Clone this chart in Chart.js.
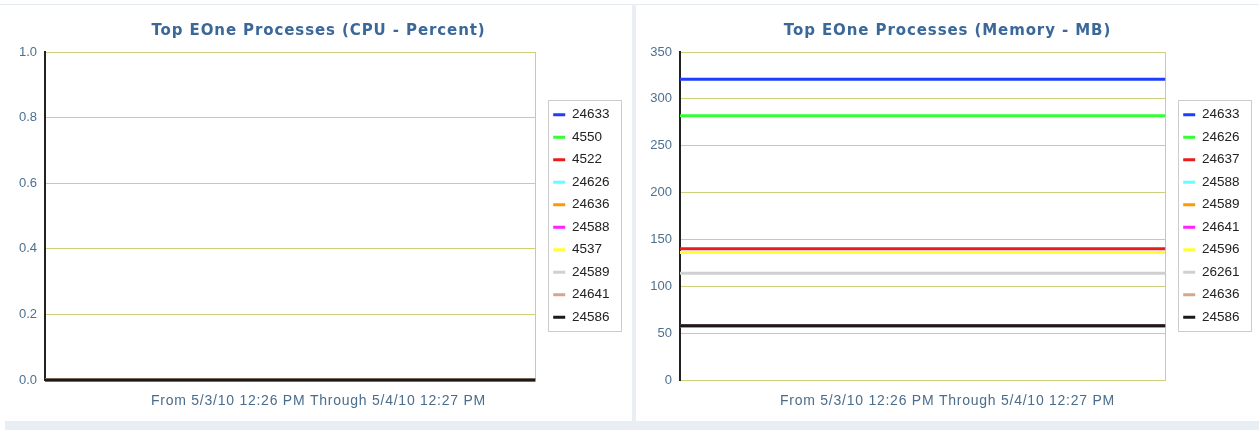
<!DOCTYPE html>
<html>
<head>
<meta charset="utf-8">
<title>Top EOne Processes</title>
<script src="https://cdn.jsdelivr.net/npm/chart.js@4.4.1/dist/chart.umd.min.js"></script>
<style>
  html, body { margin: 0; padding: 0; }
  body { width: 1259px; height: 430px; background: #ffffff; position: relative; overflow: hidden; }
  .topline { position: absolute; left: 0; top: 4px; width: 1259px; height: 1px; background: #e4eaf2; }
  .divider { position: absolute; left: 632px; top: 4px; width: 4px; height: 417px; background: #e9eef5; }
  .band { position: absolute; left: 5px; top: 421px; width: 1254px; height: 9px; background: #e9eef5; }
  canvas { position: absolute; top: 5px; }
  #cpuChart { left: 5px; }
  #memChart { left: 636px; }
</style>
</head>
<body>
<div class="topline"></div>
<div class="divider"></div>
<div class="band"></div>
<canvas id="cpuChart" width="627" height="415"></canvas>
<canvas id="memChart" width="623" height="415"></canvas>
<script>
// Time range covered by both charts (start / end sample)
const timeLabels = ['5/3/10 12:26 PM', '5/4/10 12:27 PM'];
const rangeText = 'From 5/3/10 12:26 PM Through 5/4/10 12:27 PM';

// CPU chart - process ids and their (flat) values
const cpuProcs = ['24633', '4550', '4522', '24626', '24636', '24588', '4537', '24589', '24641', '24586'];
const cpuPercent = [0, 0, 0, 0, 0, 0, 0, 0, 0, 0];
const cpuTicks = [0, 0.2, 0.4, 0.6, 0.8, 1.0];

// Memory chart - process ids and their (flat) values in MB
const memProcs = ['24633', '24626', '24637', '24588', '24589', '24641', '24596', '26261', '24636', '24586'];
const memMB = [321, 282, 140, 58, 136, 58, 136, 114, 58, 58];
const memTicks = [0, 50, 100, 150, 200, 250, 300, 350];

// Series colours, same slot order in both charts
const seriesColors = ['#1f3dff', '#33ff33', '#e81c1c', '#66ffff', '#ff9900', '#ff22ff', '#ffff33', '#d0d0d0', '#d4a68a', '#1a1a1a'];

const gridColor = '#cfcf7a';
const tickColor = '#4d7090';

// grey frame round the legend items
const legendFrame = {
    id: 'legendFrame',
    afterDraw(chart) {
        const boxes = chart.legend && chart.legend.legendHitBoxes;
        if (!boxes || !boxes.length) return;
        const x0 = Math.min(...boxes.map(b => b.left)) - 5;
        const x1 = Math.max(...boxes.map(b => b.left + b.width)) + 12;
        const y0 = Math.min(...boxes.map(b => b.top)) - 8;
        const y1 = Math.max(...boxes.map(b => b.top + b.height)) + 7;
        const ctx = chart.ctx;
        ctx.save();
        ctx.strokeStyle = '#cccccc';
        ctx.lineWidth = 1;
        ctx.strokeRect(Math.round(x0) + 0.5, Math.round(y0) + 0.5, Math.round(x1 - x0), Math.round(y1 - y0));
        ctx.restore();
    }
};

// the original titles are drawn a bit loose, add some letter spacing to them
const spacedTitles = {
    id: 'spacedTitles',
    afterInit(chart) {
        chart.boxes.forEach(box => {
            if (!box.options || typeof box.options.text !== 'string') return;
            const draw = box.draw;
            box.draw = function(area) {
                chart.ctx.letterSpacing = this.options.font.weight === 'bold' ? '0.9px' : '0.75px';
                draw.call(this, area);
                chart.ctx.letterSpacing = '0px';
            };
        });
    }
};

function buildChart(canvasId, titleText, procs, values, ticks, decimals, plotLeft, pad) {
    const datasets = procs.map((p, i) => ({
        label: p,
        data: [values[i], values[i]],
        borderColor: seriesColors[i],
        backgroundColor: seriesColors[i],
        borderWidth: 3,
        pointRadius: 0,
        tension: 0,
        clip: false,
        order: procs.length - i   // later series drawn on top
    }));

    return new Chart(document.getElementById(canvasId), {
        type: 'line',
        data: { labels: timeLabels, datasets: datasets },
        plugins: [legendFrame, spacedTitles],
        options: {
            responsive: false,
            animation: false,
            // same padding both sides so the titles stay centred on the panel
            layout: { padding: { left: pad, right: pad, top: 0, bottom: 0 } },
            scales: {
                x: {
                    display: false,
                    offset: false
                },
                y: {
                    min: ticks[0],
                    max: ticks[ticks.length - 1],
                    afterBuildTicks(scale) {
                        scale.ticks = ticks.map(v => ({ value: v }));
                    },
                    afterFit(scale) {
                        scale.width = plotLeft - pad;
                    },
                    grid: { color: gridColor, lineWidth: 1, drawTicks: false },
                    border: { display: true, color: '#222222', width: 2 },
                    ticks: {
                        padding: 8,
                        color: tickColor,
                        font: { family: 'Liberation Sans', size: 13 },
                        callback: v => Number(v).toFixed(decimals)
                    }
                },
                yEdge: {
                    position: 'right',
                    display: true,
                    afterFit(scale) {
                        scale.width = 9;
                    },
                    grid: { display: false, drawTicks: false },
                    border: { display: true, color: gridColor, width: 1 },
                    ticks: { display: false }
                }
            },
            plugins: {
                title: {
                    display: true,
                    text: titleText,
                    color: '#3a6898',
                    font: { family: 'DejaVu Sans', size: 15, weight: 'bold' },
                    padding: { top: 17, bottom: 12 }
                },
                subtitle: {
                    display: true,
                    position: 'bottom',
                    text: rangeText,
                    color: '#4a6d8c',
                    font: { family: 'Liberation Sans', size: 14, weight: 'normal' },
                    padding: { top: 12.5, bottom: 10.7 }
                },
                legend: {
                    position: 'right',
                    fullSize: false,
                    labels: {
                        boxWidth: 12,
                        boxHeight: 3,
                        padding: 9,
                        color: '#222222',
                        font: { family: 'Liberation Sans', size: 13.5 },
                        sort: (a, b) => a.datasetIndex - b.datasetIndex,
                        generateLabels(chart) {
                            const items = Chart.defaults.plugins.legend.labels.generateLabels(chart);
                            items.forEach(it => { it.lineWidth = 0; it.fillStyle = it.strokeStyle; });
                            return items;
                        }
                    }
                },
                tooltip: { enabled: false }
            }
        }
    });
}

buildChart('cpuChart', 'Top EOne Processes (CPU - Percent)', cpuProcs, cpuPercent, cpuTicks, 1, 40, 12.5);
buildChart('memChart', 'Top EOne Processes (Memory - MB)', memProcs, memMB, memTicks, 0, 44, 9.5);
</script>
</body>
</html>
